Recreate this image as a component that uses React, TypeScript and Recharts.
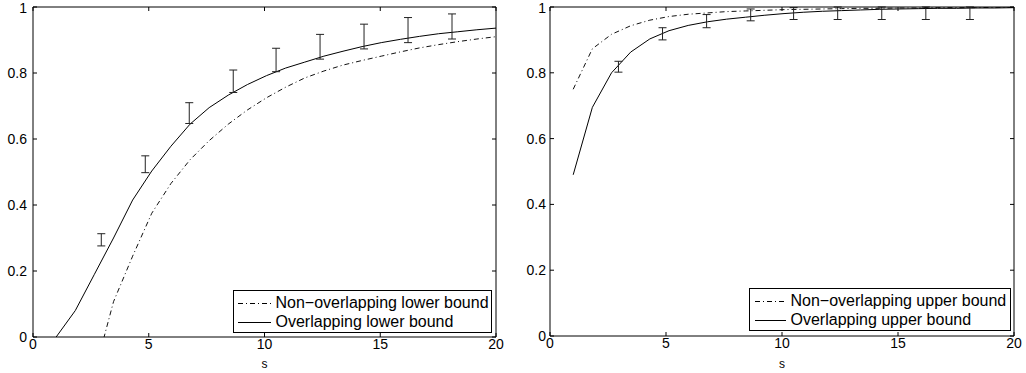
import { LineChart, Line, XAxis, YAxis, ErrorBar, Legend } from "recharts";

// s values where the bounds were evaluated
const sGrid = [
  1, 1.826, 2.652, 3.478, 4.304, 5.13, 5.957, 6.783, 7.609, 8.435, 9.261, 10.087,
  10.913, 11.739, 12.565, 13.391, 14.217, 15.043, 15.87, 16.696, 17.522, 18.348, 19.174, 20,
];

const leftOverlapping = [
  0, 0.08, 0.19, 0.3, 0.415, 0.503, 0.578, 0.645, 0.695, 0.733, 0.765, 0.792,
  0.815, 0.833, 0.851, 0.866, 0.88, 0.892, 0.902, 0.911, 0.919, 0.925, 0.931, 0.936,
];
const leftNonOverlapping = [
  null, null, -0.11, 0.107, 0.245, 0.375, 0.465, 0.537, 0.595, 0.645, 0.688, 0.725,
  0.757, 0.785, 0.806, 0.824, 0.838, 0.851, 0.864, 0.876, 0.886, 0.895, 0.903, 0.91,
];

const rightOverlapping = [
  0.49, 0.695, 0.8, 0.863, 0.903, 0.928, 0.944, 0.955, 0.963, 0.969, 0.975, 0.98,
  0.984, 0.987, 0.989, 0.991, 0.993, 0.994, 0.995, 0.996, 0.996, 0.997, 0.997, 0.998,
];
const rightNonOverlapping = [
  0.75, 0.873, 0.917, 0.943, 0.96, 0.971, 0.978, 0.982, 0.986, 0.988, 0.99, 0.992,
  0.993, 0.994, 0.995, 0.996, 0.996, 0.997, 0.997, 0.998, 0.998, 0.998, 0.999, 0.999,
];

// simulated points with error bars
const errS = [2.95, 4.85, 6.75, 8.65, 10.5, 12.4, 14.3, 16.2, 18.1];
const leftErrLow = [0.276, 0.498, 0.647, 0.741, 0.804, 0.842, 0.873, 0.892, 0.903];
const leftErrHigh = [0.313, 0.549, 0.71, 0.809, 0.875, 0.917, 0.948, 0.968, 0.979];
const rightErrLow = [0.802, 0.9, 0.937, 0.958, 0.962, 0.962, 0.962, 0.962, 0.962];
const rightErrHigh = [0.835, 0.937, 0.977, 0.994, 0.998, 1.0, 1.0, 1.0, 1.0];

const xTicks = [0, 5, 10, 15, 20];
const yTicks = [0, 0.2, 0.4, 0.6, 0.8, 1];

const FONT = "'Liberation Sans', Arial, Helvetica, sans-serif";
const DASHDOT = "5 3 1 3";
const blank = () => "";

const LegendBox = ({ labels, sampleLeft, sampleLen, textLeft, padTop }) => (
  <div
    style={{
      boxSizing: "border-box",
      width: "100%",
      height: "100%",
      border: "1px solid #000",
      background: "#fff",
      position: "relative",
      fontFamily: FONT,
      fontSize: 16,
      color: "#000",
    }}
  >
    {labels.map((label, i) => (
      <div
        key={label}
        style={{ position: "absolute", left: 0, top: padTop + i * 18.7, height: 18.7, width: "100%" }}
      >
        <svg style={{ position: "absolute", left: sampleLeft, top: 0 }} width={sampleLen} height={19}>
          <line
            x1={0}
            x2={sampleLen}
            y1={9.5}
            y2={9.5}
            stroke="#000"
            strokeWidth={1}
            strokeDasharray={i === 0 ? DASHDOT : undefined}
          />
        </svg>
        <span style={{ position: "absolute", left: textLeft, top: 0, lineHeight: "18.7px", whiteSpace: "nowrap" }}>
          {label}
        </span>
      </div>
    ))}
  </div>
);

const Panel = ({ overlapping, nonOverlapping, errLow, errHigh, labels, yAxisWidth, right, xAxisHeight, yTickMargin, legend }) => {
  const data = sGrid.map((s, i) => ({ s, solid: overlapping[i], dash: nonOverlapping[i] }));
  const errData = errS.map((s, i) => {
    const mid = (errLow[i] + errHigh[i]) / 2;
    return { s, mid, err: [mid - errLow[i], errHigh[i] - mid] };
  });

  return (
    <LineChart width={513} height={373} data={data} margin={{ top: 6, right: right - 1, bottom: 0, left: 0 }}>
      <XAxis
        dataKey="s"
        type="number"
        domain={[0, 20]}
        ticks={xTicks}
        allowDataOverflow
        height={xAxisHeight}
        stroke="#000"
        tickSize={-4}
        tickMargin={6}
        tick={{ fill: "#000", fontSize: 14, fontFamily: FONT }}
        label={{ value: "s", position: "insideBottom", offset: 5, fill: "#000", fontSize: 12, fontFamily: FONT }}
      />
      <XAxis
        xAxisId="top"
        dataKey="s"
        type="number"
        domain={[0, 20]}
        ticks={xTicks}
        allowDataOverflow
        orientation="top"
        height={1}
        stroke="#000"
        tickSize={-4}
        tickFormatter={blank}
      />
      <YAxis
        type="number"
        domain={[0, 1]}
        ticks={yTicks}
        allowDataOverflow
        width={yAxisWidth}
        stroke="#000"
        tickSize={-4}
        tickMargin={yTickMargin}
        tick={{ fill: "#000", fontSize: 14, fontFamily: FONT }}
      />
      <YAxis
        yAxisId="right"
        type="number"
        domain={[0, 1]}
        ticks={yTicks}
        allowDataOverflow
        orientation="right"
        width={1}
        stroke="#000"
        tickSize={-4}
        tickFormatter={blank}
      />
      <Line dataKey="dash" stroke="#111" strokeWidth={1} strokeDasharray={DASHDOT} dot={false} isAnimationActive={false} />
      <Line dataKey="solid" stroke="#000" strokeWidth={1} dot={false} isAnimationActive={false} />
      <Line data={errData} dataKey="mid" stroke="none" dot={false} legendType="none" isAnimationActive={false}>
        <ErrorBar dataKey="err" width={4} stroke="#222" strokeWidth={1} direction="y" />
      </Line>
      <Legend
        layout="vertical"
        verticalAlign="middle"
        align="center"
        wrapperStyle={{ left: legend.left, top: legend.top, width: legend.width, height: legend.height }}
        content={() => (
          <LegendBox labels={labels} sampleLeft={legend.sampleLeft} sampleLen={legend.sampleLen} textLeft={legend.textLeft} padTop={legend.padTop} />
        )}
      />
    </LineChart>
  );
};

export default function App() {
  return (
    <div style={{ position: "absolute", left: 0, top: 0, width: 1026, height: 373, display: "flex", background: "#fff" }}>
      <Panel
        overlapping={leftOverlapping}
        nonOverlapping={leftNonOverlapping}
        errLow={leftErrLow}
        errHigh={leftErrHigh}
        labels={["Non\u2212overlapping lower bound", "Overlapping lower bound"]}
        yAxisWidth={33}
        right={17}
        xAxisHeight={36}
        yTickMargin={10}
        legend={{ left: 233, top: 290, width: 259, height: 43, sampleLeft: 3.5, sampleLen: 33, textLeft: 41.5, padTop: 3 }}
      />
      <Panel
        overlapping={rightOverlapping}
        nonOverlapping={rightNonOverlapping}
        errLow={rightErrLow}
        errHigh={rightErrHigh}
        labels={["Non\u2212overlapping upper bound", "Overlapping upper bound"]}
        yAxisWidth={37}
        right={12}
        xAxisHeight={37}
        yTickMargin={8}
        legend={{ left: 236, top: 288, width: 262, height: 43, sampleLeft: 5, sampleLen: 31, textLeft: 40.5, padTop: 3 }}
      />
    </div>
  );
}
